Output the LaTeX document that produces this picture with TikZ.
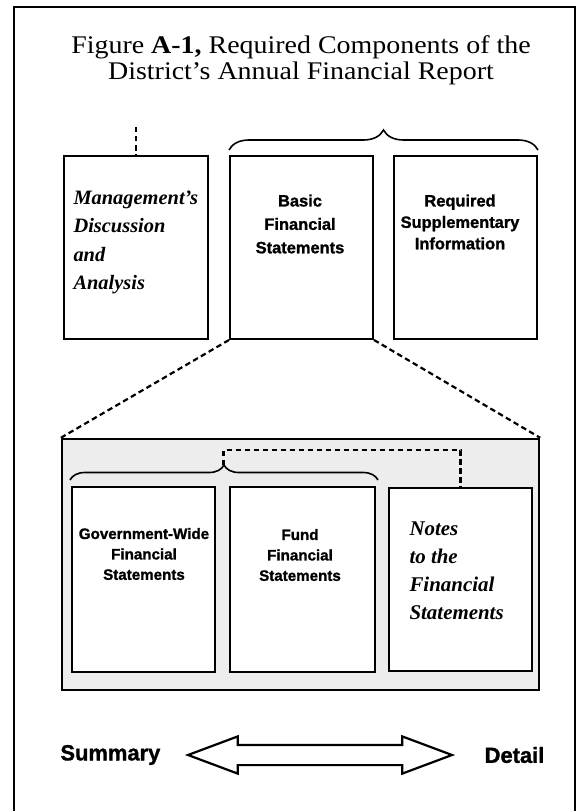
\documentclass[tikz,border=0pt]{standalone}
\usepackage{fontspec}
\setsansfont[BoldFeatures={FakeBold=1.3}]{Liberation Sans}
\newfontfamily\titlefont[FakeStretch=1.1]{Liberation Serif}
\newfontfamily\handfont{Liberation Serif}
\tikzset{>=latex}
\usetikzlibrary{positioning,calc,shapes.arrows,decorations.pathreplacing}

\begin{document}
\begin{tikzpicture}[x=1bp, y=-1bp,
    box/.style={rectangle, draw, line width=2bp, fill=white, minimum width=143bp, minimum height=183bp, inner sep=0pt},
    boxtext/.style={font=\sffamily\bfseries\fontsize{16.5}{23.5}\selectfont, align=center},
    smalltext/.style={font=\sffamily\bfseries\fontsize{15.2}{20.5}\selectfont, align=center},
    scripttext/.style={font=\handfont\bfseries\itshape\fontsize{20.5}{28.5}\selectfont, align=left, anchor=west},
    dashline/.style={line width=2.2bp, dash pattern=on 5.5bp off 3.5bp},
    bracket/.style={decorate, decoration={brace, amplitude=#1}, line width=1.6bp}]
  \useasboundingbox (0,0) rectangle (587,811);
  \draw[line width=2.2bp] (14,811) -- (14,7) -- (575,7) -- (575,811);
  \node[font=\titlefont\fontsize{25.5}{26}\selectfont, align=center] (title) at (301,60) {Figure \textbf{A-1,} Required Components of the\\District’s Annual Financial Report};

  \node[box, minimum width=144bp] (mda) at (136,247.5) {};
  \node[box, right=20bp of mda] (bfs) {};
  \node[box, right=19bp of bfs] (rsi) {};
  \node[scripttext] (mdatext) at (70,242.5) {Management’s\\Discussion\\and\\Analysis};
  \node[boxtext] (bfstext) at (300,224) {Basic\\Financial\\Statements};
  \node[boxtext, font=\sffamily\bfseries\fontsize{16.5}{21.5}\selectfont] (rsitext) at (460,222) {Required\\Supplementary\\Information};
  \coordinate (mdatop) at ($(mda.north)+(0,-28)$);
  \draw[dashline] (mdatop) -- (mda.north);
  \draw[bracket=20bp] ($(bfs.north west)+(0,-5)$) -- ($(rsi.north east)+(0,-5)$);

  \node[rectangle, draw, line width=2.4bp, fill=black!7, minimum width=477bp, minimum height=251bp] (panel) at (300.5,564.5) {};
  \draw[dashline] (bfs.south west) -- (panel.north west);
  \draw[dashline] (bfs.south east) -- (panel.north east);

  \node[box, minimum height=185bp] (gw) at (143.5,579.5) {};
  \node[box, minimum height=185bp, minimum width=145bp, right=13bp of gw] (fund) {};
  \node[box, minimum height=183bp, right=12bp of fund] (notes) {};
  \node[smalltext] (gwtext) at (144,554) {Government-Wide\\Financial\\Statements};
  \node[smalltext] (fundtext) at (300,555) {Fund\\Financial\\Statements};
  \node[scripttext, font=\handfont\bfseries\itshape\fontsize{21}{28}\selectfont] (notestext) at (406,570.5) {Notes\\to the\\Financial\\Statements};
  \draw[bracket=15bp] ($(gw.north west)+(-1,-6)$) -- ($(fund.north east)+(2,-6)$);
  \coordinate (lowtip) at ($(gw.north west)!0.5!(fund.north east)+(0,-21)$);
  \draw[dashline] (lowtip) |- ($(notes.north)+(0,-37)$) -- (notes.north);

  \node[double arrow, draw, line width=2.2bp, minimum height=264bp, inner xsep=0pt, inner ysep=9bp, double arrow head extend=8.5bp, double arrow tip angle=41] (scale) at (320,755) {};
  \node[font=\sffamily\bfseries\fontsize{22}{26}\selectfont, left=21bp of scale] (summary) {Summary};
  \node[font=\sffamily\bfseries\fontsize{22}{26}\selectfont, right=26bp of scale] (detail) {Detail};
\end{tikzpicture}
\end{document}
